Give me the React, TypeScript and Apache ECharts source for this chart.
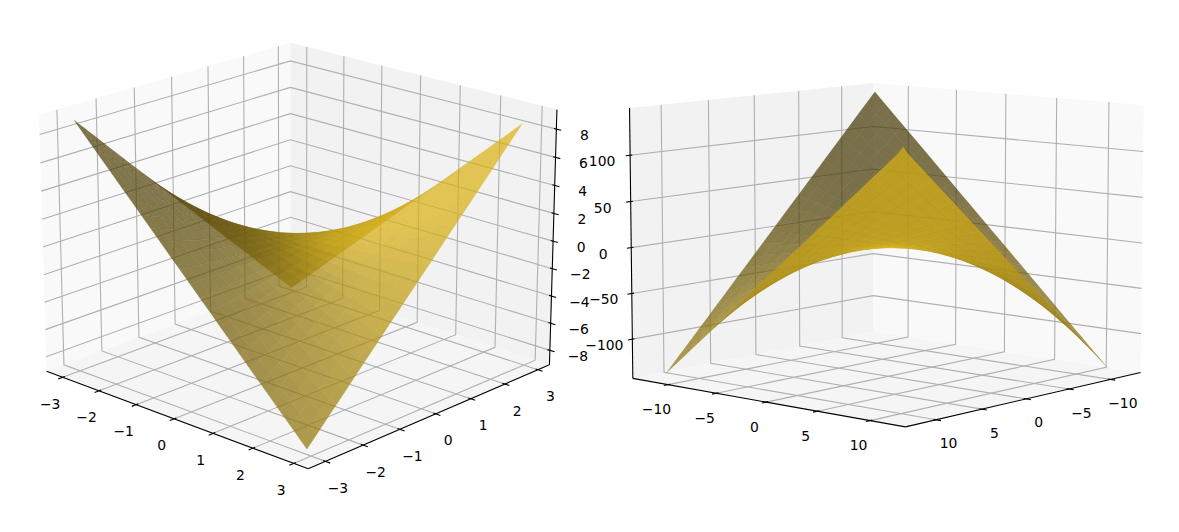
import React, { useEffect, useRef } from "react";
import * as echarts from "echarts";

const leftAxis = [-3, -2.75, -2.5, -2.25, -2, -1.75, -1.5, -1.25, -1, -0.75, -0.5, -0.25, 0, 0.25, 0.5, 0.75, 1, 1.25, 1.5, 1.75, 2, 2.25, 2.5, 2.75, 2.9];
const leftZ = [
  [9,8.25,7.5,6.75,6,5.25,4.5,3.75,3,2.25,1.5,.75,0,-.75,-1.5,-2.25,-3,-3.75,-4.5,-5.25,-6,-6.75,-7.5,-8.25,-8.7],
  [8.25,7.56,6.88,6.19,5.5,4.81,4.13,3.44,2.75,2.06,1.38,.69,0,-.69,-1.38,-2.06,-2.75,-3.44,-4.13,-4.81,-5.5,-6.19,-6.88,-7.56,-7.98],
  [7.5,6.88,6.25,5.63,5,4.38,3.75,3.13,2.5,1.88,1.25,.63,0,-.63,-1.25,-1.88,-2.5,-3.13,-3.75,-4.38,-5,-5.63,-6.25,-6.88,-7.25],
  [6.75,6.19,5.63,5.06,4.5,3.94,3.38,2.81,2.25,1.69,1.13,.56,0,-.56,-1.13,-1.69,-2.25,-2.81,-3.38,-3.94,-4.5,-5.06,-5.63,-6.19,-6.53],
  [6,5.5,5,4.5,4,3.5,3,2.5,2,1.5,1,.5,0,-.5,-1,-1.5,-2,-2.5,-3,-3.5,-4,-4.5,-5,-5.5,-5.8],
  [5.25,4.81,4.38,3.94,3.5,3.06,2.63,2.19,1.75,1.31,.88,.44,0,-.44,-.88,-1.31,-1.75,-2.19,-2.63,-3.06,-3.5,-3.94,-4.38,-4.81,-5.08],
  [4.5,4.13,3.75,3.38,3,2.63,2.25,1.88,1.5,1.13,.75,.38,0,-.38,-.75,-1.13,-1.5,-1.88,-2.25,-2.63,-3,-3.38,-3.75,-4.13,-4.35],
  [3.75,3.44,3.13,2.81,2.5,2.19,1.88,1.56,1.25,.94,.63,.31,0,-.31,-.63,-.94,-1.25,-1.56,-1.88,-2.19,-2.5,-2.81,-3.13,-3.44,-3.63],
  [3,2.75,2.5,2.25,2,1.75,1.5,1.25,1,.75,.5,.25,0,-.25,-.5,-.75,-1,-1.25,-1.5,-1.75,-2,-2.25,-2.5,-2.75,-2.9],
  [2.25,2.06,1.88,1.69,1.5,1.31,1.13,.94,.75,.56,.38,.19,0,-.19,-.38,-.56,-.75,-.94,-1.13,-1.31,-1.5,-1.69,-1.88,-2.06,-2.18],
  [1.5,1.38,1.25,1.13,1,.88,.75,.63,.5,.38,.25,.13,0,-.13,-.25,-.38,-.5,-.63,-.75,-.88,-1,-1.13,-1.25,-1.38,-1.45],
  [.75,.69,.63,.56,.5,.44,.38,.31,.25,.19,.13,.06,0,-.06,-.13,-.19,-.25,-.31,-.38,-.44,-.5,-.56,-.63,-.69,-.73],
  [0,0,0,0,0,0,0,0,0,0,0,0,0,0,0,0,0,0,0,0,0,0,0,0,0],
  [-.75,-.69,-.63,-.56,-.5,-.44,-.38,-.31,-.25,-.19,-.13,-.06,0,.06,.13,.19,.25,.31,.38,.44,.5,.56,.63,.69,.73],
  [-1.5,-1.38,-1.25,-1.13,-1,-.88,-.75,-.63,-.5,-.38,-.25,-.13,0,.13,.25,.38,.5,.63,.75,.88,1,1.13,1.25,1.38,1.45],
  [-2.25,-2.06,-1.88,-1.69,-1.5,-1.31,-1.13,-.94,-.75,-.56,-.38,-.19,0,.19,.38,.56,.75,.94,1.13,1.31,1.5,1.69,1.88,2.06,2.18],
  [-3,-2.75,-2.5,-2.25,-2,-1.75,-1.5,-1.25,-1,-.75,-.5,-.25,0,.25,.5,.75,1,1.25,1.5,1.75,2,2.25,2.5,2.75,2.9],
  [-3.75,-3.44,-3.13,-2.81,-2.5,-2.19,-1.88,-1.56,-1.25,-.94,-.63,-.31,0,.31,.63,.94,1.25,1.56,1.88,2.19,2.5,2.81,3.13,3.44,3.63],
  [-4.5,-4.13,-3.75,-3.38,-3,-2.63,-2.25,-1.88,-1.5,-1.13,-.75,-.38,0,.38,.75,1.13,1.5,1.88,2.25,2.63,3,3.38,3.75,4.13,4.35],
  [-5.25,-4.81,-4.38,-3.94,-3.5,-3.06,-2.63,-2.19,-1.75,-1.31,-.88,-.44,0,.44,.88,1.31,1.75,2.19,2.63,3.06,3.5,3.94,4.38,4.81,5.08],
  [-6,-5.5,-5,-4.5,-4,-3.5,-3,-2.5,-2,-1.5,-1,-.5,0,.5,1,1.5,2,2.5,3,3.5,4,4.5,5,5.5,5.8],
  [-6.75,-6.19,-5.63,-5.06,-4.5,-3.94,-3.38,-2.81,-2.25,-1.69,-1.13,-.56,0,.56,1.13,1.69,2.25,2.81,3.38,3.94,4.5,5.06,5.63,6.19,6.53],
  [-7.5,-6.88,-6.25,-5.63,-5,-4.38,-3.75,-3.13,-2.5,-1.88,-1.25,-.63,0,.63,1.25,1.88,2.5,3.13,3.75,4.38,5,5.63,6.25,6.88,7.25],
  [-8.25,-7.56,-6.88,-6.19,-5.5,-4.81,-4.13,-3.44,-2.75,-2.06,-1.38,-.69,0,.69,1.38,2.06,2.75,3.44,4.13,4.81,5.5,6.19,6.88,7.56,7.98],
  [-8.7,-7.98,-7.25,-6.53,-5.8,-5.08,-4.35,-3.63,-2.9,-2.18,-1.45,-.73,0,.73,1.45,2.18,2.9,3.63,4.35,5.08,5.8,6.53,7.25,7.98,8.41],
];

const rightAxis = [-12,-11,-10,-9,-8,-7,-6,-5,-4,-3,-2,-1,0,1,2,3,4,5,6,7,8,9,10,11,11.5];
const rightZ = [
  [144,132,120,108,96,84,72,60,48,36,24,12,0,-12,-24,-36,-48,-60,-72,-84,-96,-108,-120,-132,-138],
  [132,121,110,99,88,77,66,55,44,33,22,11,0,-11,-22,-33,-44,-55,-66,-77,-88,-99,-110,-121,-126.5],
  [120,110,100,90,80,70,60,50,40,30,20,10,0,-10,-20,-30,-40,-50,-60,-70,-80,-90,-100,-110,-115],
  [108,99,90,81,72,63,54,45,36,27,18,9,0,-9,-18,-27,-36,-45,-54,-63,-72,-81,-90,-99,-103.5],
  [96,88,80,72,64,56,48,40,32,24,16,8,0,-8,-16,-24,-32,-40,-48,-56,-64,-72,-80,-88,-92],
  [84,77,70,63,56,49,42,35,28,21,14,7,0,-7,-14,-21,-28,-35,-42,-49,-56,-63,-70,-77,-80.5],
  [72,66,60,54,48,42,36,30,24,18,12,6,0,-6,-12,-18,-24,-30,-36,-42,-48,-54,-60,-66,-69],
  [60,55,50,45,40,35,30,25,20,15,10,5,0,-5,-10,-15,-20,-25,-30,-35,-40,-45,-50,-55,-57.5],
  [48,44,40,36,32,28,24,20,16,12,8,4,0,-4,-8,-12,-16,-20,-24,-28,-32,-36,-40,-44,-46],
  [36,33,30,27,24,21,18,15,12,9,6,3,0,-3,-6,-9,-12,-15,-18,-21,-24,-27,-30,-33,-34.5],
  [24,22,20,18,16,14,12,10,8,6,4,2,0,-2,-4,-6,-8,-10,-12,-14,-16,-18,-20,-22,-23],
  [12,11,10,9,8,7,6,5,4,3,2,1,0,-1,-2,-3,-4,-5,-6,-7,-8,-9,-10,-11,-11.5],
  [0,0,0,0,0,0,0,0,0,0,0,0,0,0,0,0,0,0,0,0,0,0,0,0,0],
  [-12,-11,-10,-9,-8,-7,-6,-5,-4,-3,-2,-1,0,1,2,3,4,5,6,7,8,9,10,11,11.5],
  [-24,-22,-20,-18,-16,-14,-12,-10,-8,-6,-4,-2,0,2,4,6,8,10,12,14,16,18,20,22,23],
  [-36,-33,-30,-27,-24,-21,-18,-15,-12,-9,-6,-3,0,3,6,9,12,15,18,21,24,27,30,33,34.5],
  [-48,-44,-40,-36,-32,-28,-24,-20,-16,-12,-8,-4,0,4,8,12,16,20,24,28,32,36,40,44,46],
  [-60,-55,-50,-45,-40,-35,-30,-25,-20,-15,-10,-5,0,5,10,15,20,25,30,35,40,45,50,55,57.5],
  [-72,-66,-60,-54,-48,-42,-36,-30,-24,-18,-12,-6,0,6,12,18,24,30,36,42,48,54,60,66,69],
  [-84,-77,-70,-63,-56,-49,-42,-35,-28,-21,-14,-7,0,7,14,21,28,35,42,49,56,63,70,77,80.5],
  [-96,-88,-80,-72,-64,-56,-48,-40,-32,-24,-16,-8,0,8,16,24,32,40,48,56,64,72,80,88,92],
  [-108,-99,-90,-81,-72,-63,-54,-45,-36,-27,-18,-9,0,9,18,27,36,45,54,63,72,81,90,99,103.5],
  [-120,-110,-100,-90,-80,-70,-60,-50,-40,-30,-20,-10,0,10,20,30,40,50,60,70,80,90,100,110,115],
  [-132,-121,-110,-99,-88,-77,-66,-55,-44,-33,-22,-11,0,11,22,33,44,55,66,77,88,99,110,121,126.5],
  [-138,-126.5,-115,-103.5,-92,-80.5,-69,-57.5,-46,-34.5,-23,-11.5,0,11.5,23,34.5,46,57.5,69,80.5,92,103.5,115,126.5,134],
];

const leftXTicks = [-3, -2, -1, 0, 1, 2, 3];
const leftYTicks = [-3, -2, -1, 0, 1, 2, 3];
const leftZTicks = [-8, -6, -4, -2, 0, 2, 4, 6, 8];
const rightXTicks = [-10, -5, 0, 5, 10];
const rightYTicks = [-10, -5, 0, 5, 10];
const rightZTicks = [-100, -50, 0, 50, 100];

const LX = 1.19, LZ = 0.893, TICK_OUT = 0.0333, TICK_IN = 0.0167;
const GOLD = [218, 178, 20];
const ALPHA = 0.72;
const LIGHT = [-0.667, -0.667, 0.333];
const FONT = '13.9px "DejaVu Sans"';

const leftView = {
  el: 19.3, az: -47, S: 3034, cx: 298.7, cy: 242,
  midX: -0.05, limX: 3.4, midY: -0.05, limY: 3.4, midZ: 0.15, limZ: 9.22, flipY: 1,
  wallA: "#f9f9f9", wallB: "#f2f2f2", floor: "#f5f5f5", zAt: [1, 1], zTickAxis: 0, zTickOut: 1,
  xLab: [-12.5, 26.5], yLab: [12.5, 26.5], zLab: [28, 5.7],
  xs: leftAxis, ys: leftAxis, zs: leftZ, xt: leftXTicks, yt: leftYTicks, zt: leftZTicks,
};
const rightView = {
  el: 8.2, az: -48.6, S: 3042, cx: 888, cy: 241.8,
  midX: -0.25, limX: 13.5, midY: -0.25, limY: 13.5, midZ: 3.8, limZ: 146.9, flipY: -1,
  wallA: "#f2f2f2", wallB: "#f9f9f9", floor: "#f5f5f5", zAt: [-1, -1], zTickAxis: 1, zTickOut: -1,
  xLab: [-11.7, 24.6], yLab: [12.5, 23.5], zLab: [-28, 6],
  xs: rightAxis, ys: rightAxis, zs: rightZ, xt: rightXTicks, yt: rightYTicks, zt: rightZTicks,
};

function projector(v: any) {
  const e = (v.el * Math.PI) / 180, a = (v.az * Math.PI) / 180;
  const ce = Math.cos(e), se = Math.sin(e), ca = Math.cos(a), sa = Math.sin(a);
  return (p: number[]) => {
    const X = (p[0] * LX) / 2, Y = (p[1] * LX) / 2, Z = (p[2] * LZ) / 2;
    const xc = -sa * X + ca * Y;
    const yc = -se * ca * X - se * sa * Y + ce * Z;
    const dep = ce * ca * X + ce * sa * Y + se * Z;
    const d = 10 - dep;
    return [v.cx + (v.S * xc) / d, v.cy - (v.S * yc) / d, dep];
  };
}

const fmt = (n: number) => (n < 0 ? "\u2212" + -n : String(n));
const boxX = (v: any, t: number) => (t - v.midX) / v.limX;
const boxY = (v: any, t: number) => (v.flipY * (t - v.midY)) / v.limY;
const boxZ = (v: any, t: number) => (t - v.midZ) / v.limZ;

function frame(v: any) {
  const P = projector(v);
  const xy = (p: number[]) => P(p).slice(0, 2);
  const out: any[] = [];
  const pane = (pts: number[][], fill: string) =>
    out.push({ type: "polygon", shape: { points: pts.map(xy) }, style: { fill } });
  pane([[-1, -1, -1], [-1, 1, -1], [-1, 1, 1], [-1, -1, 1]], v.wallA);
  pane([[-1, 1, -1], [1, 1, -1], [1, 1, 1], [-1, 1, 1]], v.wallB);
  pane([[-1, -1, -1], [1, -1, -1], [1, 1, -1], [-1, 1, -1]], v.floor);
  const grid = (pts: number[][]) =>
    out.push({ type: "polyline", shape: { points: pts.map(xy) }, style: { stroke: "#b0b0b0", lineWidth: 1.1, fill: null } });
  const seg = (p: number[], q: number[]) =>
    out.push({ type: "polyline", shape: { points: [xy(p), xy(q)] }, style: { stroke: "#000", lineWidth: 1.1, fill: null } });
  const label = (t: number, p: number[], off: number[]) => {
    const s = xy(p);
    out.push({ type: "text", style: { text: fmt(t), x: s[0] + off[0], y: s[1] + off[1], fill: "#000", font: FONT, align: "center", verticalAlign: "middle" } });
  };
  v.xt.forEach((t: number) => { const a = boxX(v, t); grid([[a, -1, -1], [a, 1, -1], [a, 1, 1]]); });
  v.yt.forEach((t: number) => { const b = boxY(v, t); grid([[1, b, -1], [-1, b, -1], [-1, b, 1]]); });
  v.zt.forEach((t: number) => { const c = boxZ(v, t); grid([[-1, -1, c], [-1, 1, c], [1, 1, c]]); });
  seg([-1, -1, -1], [1, -1, -1]);
  seg([1, -1, -1], [1, 1, -1]);
  seg([v.zAt[0], v.zAt[1], -1], [v.zAt[0], v.zAt[1], 1]);
  v.xt.forEach((t: number) => {
    const a = boxX(v, t);
    seg([a, -1 - TICK_OUT, -1], [a, -1 + TICK_IN, -1]);
    label(t, [a, -1, -1], v.xLab);
  });
  v.yt.forEach((t: number) => {
    const b = boxY(v, t);
    seg([1 + TICK_OUT, b, -1], [1 - TICK_IN, b, -1]);
    label(t, [1, b, -1], v.yLab);
  });
  v.zt.forEach((t: number) => {
    const c = boxZ(v, t);
    const base = [v.zAt[0], v.zAt[1], c];
    const p = base.slice(), q = base.slice();
    p[v.zTickAxis] += v.zTickOut * TICK_OUT;
    q[v.zTickAxis] -= v.zTickOut * TICK_IN;
    seg(p, q);
    label(t, base, v.zLab);
  });
  return out;
}

function surface(v: any) {
  const P = projector(v);
  const cells: any[] = [];
  const n = v.xs.length;
  for (let i = 0; i < n - 1; i++) {
    for (let j = 0; j < n - 1; j++) {
      const raw = [[i, j], [i + 1, j], [i + 1, j + 1], [i, j + 1]].map(([r, c]) => [v.xs[r], v.ys[c], v.zs[r][c]]);
      const box = raw.map((q) => P([boxX(v, q[0]), boxY(v, q[1]), boxZ(v, q[2])]));
      const d1 = [raw[2][0] - raw[0][0], raw[2][1] - raw[0][1], raw[2][2] - raw[0][2]];
      const d2 = [raw[3][0] - raw[1][0], raw[3][1] - raw[1][1], raw[3][2] - raw[1][2]];
      let nx = d1[1] * d2[2] - d1[2] * d2[1], ny = d1[2] * d2[0] - d1[0] * d2[2], nz = d1[0] * d2[1] - d1[1] * d2[0];
      if (nz < 0) { nx = -nx; ny = -ny; nz = -nz; }
      const len = Math.hypot(nx, ny, nz) || 1;
      const s = (nx * LIGHT[0] + ny * LIGHT[1] + nz * LIGHT[2]) / len;
      const f = 0.3 + (0.7 * (s + 1)) / 2;
      const rgb = `${Math.round(GOLD[0] * f)},${Math.round(GOLD[1] * f)},${Math.round(GOLD[2] * f)}`;
      cells.push({
        depth: box.reduce((t, b) => t + b[2], 0) / 4,
        el: {
          type: "polygon",
          shape: { points: box.map((b) => [b[0], b[1]]) },
          style: { fill: `rgba(${rgb},${ALPHA})`, stroke: `rgba(${rgb},0.22)`, lineWidth: 0.4 },
        },
      });
    }
  }
  cells.sort((a, b) => a.depth - b.depth);
  return cells.map((c) => c.el);
}

function layer(items: any[]) {
  return {
    type: "custom",
    coordinateSystem: "none",
    silent: true,
    data: items.map((_, i) => [i]),
    renderItem: (params: any) => items[params.dataIndex],
  };
}

export default function App() {
  const ref = useRef<HTMLDivElement>(null);
  useEffect(() => {
    const chart = echarts.init(ref.current!, null, { renderer: "svg" });
    chart.setOption({
      animation: false,
      backgroundColor: "#fff",
      series: [layer(frame(leftView)), layer(surface(leftView)), layer(frame(rightView)), layer(surface(rightView))],
    });
    return () => chart.dispose();
  }, []);
  return <div ref={ref} style={{ position: "fixed", left: 0, top: 0, width: 1179, height: 532 }} />;
}
